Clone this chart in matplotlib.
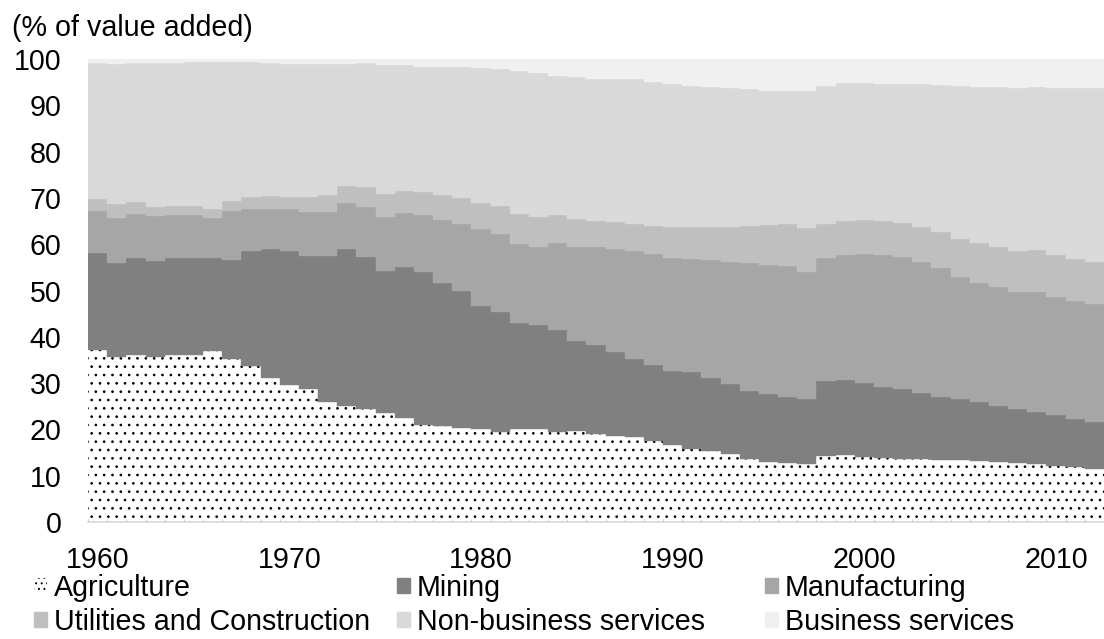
import matplotlib
matplotlib.use("Agg")
import matplotlib.pyplot as plt
from matplotlib.patches import Patch
import numpy as np

years = list(range(1960, 2013))

agriculture = [37.1, 35.7, 36.1, 35.6, 36.1, 36.0, 37.0, 35.3, 33.7, 31.2,
               29.6, 28.7, 26.0, 25.1, 24.3, 23.5, 22.5, 21.0, 20.7, 20.4,
               20.0, 19.5, 20.0, 20.0, 19.4, 19.7, 19.1, 18.6, 18.3, 17.6,
               16.6, 15.7, 15.4, 14.6, 13.7, 13.0, 12.7, 12.5, 14.3, 14.5,
               14.1, 13.8, 13.5, 13.5, 13.4, 13.4, 13.2, 12.9, 12.8, 12.5,
               12.2, 11.8, 11.5]
mining = [21.1, 20.3, 21.0, 20.7, 20.9, 21.0, 20.0, 21.2, 24.9, 27.7,
          29.0, 28.8, 31.5, 33.9, 33.0, 30.8, 32.6, 33.0, 31.0, 29.5,
          26.7, 25.9, 22.9, 22.5, 22.1, 19.3, 19.1, 18.2, 16.8, 16.4,
          16.0, 16.6, 15.8, 15.1, 14.7, 14.6, 14.2, 14.1, 16.2, 16.2,
          16.0, 15.4, 15.2, 14.4, 13.7, 13.1, 12.8, 12.2, 11.5, 11.2,
          10.9, 10.4, 10.0]
manufacturing = [9.0, 9.7, 9.5, 9.8, 9.4, 9.2, 8.7, 10.7, 9.0, 8.7,
                 8.9, 9.5, 9.5, 9.8, 10.8, 11.6, 11.7, 12.3, 13.5, 14.5,
                 16.5, 16.7, 17.1, 16.8, 18.8, 20.5, 21.1, 22.1, 23.4, 23.8,
                 24.5, 24.5, 25.4, 26.5, 27.5, 28.0, 28.4, 27.5, 26.6, 27.0,
                 27.8, 28.5, 28.5, 28.3, 27.8, 26.5, 25.7, 25.7, 25.4, 26.0,
                 25.6, 25.6, 25.5]
utilities = [2.6, 3.0, 2.5, 1.9, 1.9, 2.1, 1.9, 2.2, 2.7, 2.9,
             2.8, 3.3, 3.6, 3.8, 4.2, 5.0, 4.6, 4.9, 5.4, 5.5,
             5.7, 6.2, 6.5, 6.6, 6.0, 6.0, 5.8, 5.8, 5.9, 6.2,
             6.7, 7.0, 7.1, 7.5, 8.0, 8.5, 9.1, 9.4, 7.3, 7.3,
             7.3, 7.4, 7.4, 7.6, 7.8, 8.2, 8.5, 8.7, 8.9, 9.1,
             9.0, 9.1, 9.2]
non_business = [29.3, 30.2, 30.0, 31.1, 30.9, 31.0, 31.7, 29.9, 29.0, 28.6,
                28.7, 28.7, 28.4, 26.4, 26.8, 27.9, 27.2, 27.1, 27.7, 28.3,
                29.1, 29.5, 30.9, 31.0, 30.0, 30.6, 30.5, 30.9, 31.3, 31.1,
                30.8, 30.4, 30.3, 30.1, 29.6, 29.0, 28.7, 29.5, 29.8, 29.8,
                29.6, 29.6, 30.0, 30.7, 31.6, 33.0, 33.8, 34.5, 35.2, 35.2,
                36.1, 36.8, 37.5]
business = [0.9, 1.1, 0.9, 0.9, 0.8, 0.7, 0.7, 0.7, 0.7, 0.9,
            1.0, 1.0, 1.0, 1.0, 0.9, 1.2, 1.4, 1.7, 1.7, 1.8,
            2.0, 2.2, 2.6, 3.1, 3.7, 3.9, 4.4, 4.4, 4.3, 4.9,
            5.4, 5.8, 6.0, 6.2, 6.5, 6.9, 6.9, 7.0, 5.8, 5.2,
            5.2, 5.3, 5.4, 5.5, 5.7, 5.8, 6.0, 6.0, 6.2, 6.0,
            6.2, 6.3, 6.3]

labels = ["Agriculture", "Mining", "Manufacturing",
          "Utilities and Construction", "Non-business services", "Business services"]
colors = ["white", "#808080", "#a6a6a6", "#bfbfbf", "#d9d9d9", "#f0f0f0"]
series = [agriculture, mining, manufacturing, utilities, non_business, business]
xticks = [1960, 1970, 1980, 1990, 2000, 2010]
yticks = [0, 10, 20, 30, 40, 50, 60, 70, 80, 90, 100]

FS = 20.6
plt.rcParams["font.family"] = ["Liberation Sans", "DejaVu Sans"]
plt.rcParams["hatch.color"] = "black"
plt.rcParams["hatch.linewidth"] = 0.7

fig = plt.figure(figsize=(11.04, 6.39), dpi=100)
ax = fig.add_axes([88 / 1104, 1 - 522 / 639, 1 - 88 / 1104, (522 - 59) / 639])

edges = np.arange(years[0] - 0.5, years[-1] + 1.0, 1.0)
bottom = np.zeros(len(years))
handles = []
for vals, lab, col in zip(series, labels, colors):
    top = bottom + np.array(vals)
    if lab == "Agriculture":
        ax.stairs(top, edges, baseline=bottom, fill=True, facecolor=col,
                  edgecolor="black", linewidth=0, hatch="..")
        handles.append(Patch(facecolor=col, edgecolor="black", linewidth=0,
                             hatch="...", label=lab))
    else:
        ax.stairs(top, edges, baseline=bottom, fill=True, facecolor=col,
                  edgecolor=col, linewidth=0.3)
        handles.append(Patch(facecolor=col, edgecolor=col, label=lab))
    bottom = top

ax.set_xlim(1959.5, 1959.5 + 1016 / 19.28)
ax.set_ylim(0, 100)
ax.set_yticks(yticks)
ax.set_xticks(xticks)
ax.set_xticks(edges, minor=True)
ax.tick_params(axis="y", length=0, pad=19, labelsize=FS)
ax.tick_params(axis="x", which="major", length=0, pad=17, labelsize=FS)
ax.tick_params(axis="x", which="minor", length=2, direction="in", color="#bfbfbf")
for s in ["top", "right", "left"]:
    ax.spines[s].set_visible(False)
ax.spines["bottom"].set_color("#d9d9d9")
ax.spines["bottom"].set_linewidth(1.2)

fig.text(12 / 1104, 1 - 28 / 639, "(% of value added)", fontsize=FS,
         ha="left", va="center")

# three legend columns, placed like the reference's equal-width columns
col_x = [34, 397, 765]
for c in range(3):
    idx = [c, c + 3]
    fig.legend([handles[i] for i in idx], [labels[i] for i in idx],
               loc="upper left", bbox_to_anchor=(col_x[c] / 1104, 1 - 574 / 639),
               ncol=1, frameon=False, fontsize=FS, borderpad=0, borderaxespad=0,
               handlelength=0.45, handleheight=0.45, handletextpad=0.25,
               labelspacing=0.2)

fig.savefig("out.png", dpi=100)
